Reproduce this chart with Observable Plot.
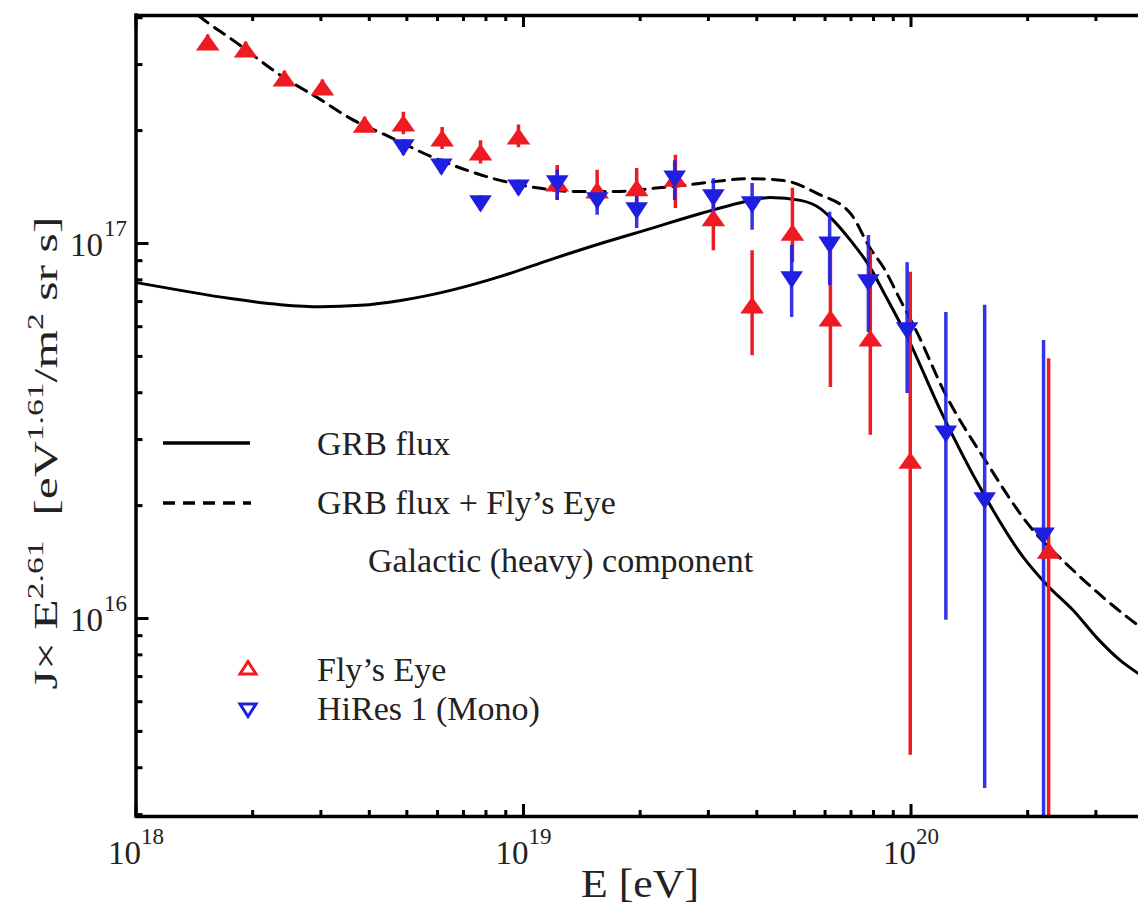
<!DOCTYPE html>
<html><head><meta charset="utf-8">
<script src="https://cdn.jsdelivr.net/npm/d3@7"></script>
<script src="https://cdn.jsdelivr.net/npm/@observablehq/plot@0.6"></script>
<style>
html,body{margin:0;padding:0;background:#fff;overflow:hidden}
#chart svg{display:block}
</style></head><body><div id="chart"></div>
<script>
// ---------- data ----------
// Fly's Eye (red, up triangles)
const flyE  = [1.531e18,1.919e18,2.415e18,3.027e18,3.890e18,4.898e18,6.166e18,7.745e18,9.705e18,1.222e19,1.549e19,1.959e19,2.466e19,3.090e19,3.890e19,4.943e19,6.194e19,7.852e19,9.954e19,2.265e20];
const flyJ  = [3.436e17,3.289e17,2.754e17,2.606e17,2.075e17,2.089e17,1.905e17,1.750e17,1.928e17,1.445e17,1.384e17,1.403e17,1.489e17,1.167e17,6.84e16,1.069e17,6.31e16,5.58e16,2.636e16,1.517e16];
const flyLo = [3.28e17,3.14e17,2.63e17,2.49e17,1.98e17,1.95e17,1.78e17,1.63e17,1.80e17,1.303e17,1.262e17,1.225e17,1.239e17,9.57e16,5.02e16,8.89e16,4.13e16,3.08e16,4.32e15,2.5e15];
const flyHi = [3.60e17,3.44e17,2.88e17,2.73e17,2.17e17,2.24e17,2.04e17,1.88e17,2.07e17,1.614e17,1.567e17,1.585e17,1.718e17,1.303e17,9.57e16,1.403e17,9.57e16,9.57e16,8.38e16,4.93e16];
// HiRes 1 Mono (blue, down triangles)
const hiE  = [4.898e18,6.138e18,7.745e18,9.705e18,1.222e19,1.549e19,1.959e19,2.455e19,3.090e19,3.890e19,4.920e19,6.166e19,7.762e19,9.772e19,1.230e20,1.549e20,2.198e20];
const hiJ  = [1.803e17,1.603e17,1.279e17,1.409e17,1.445e17,1.303e17,1.225e17,1.489e17,1.327e17,1.271e17,8.02e16,9.93e16,7.87e16,5.86e16,3.11e16,2.065e16,1.663e16];
const hiLo = [1.72e17,1.53e17,1.22e17,1.345e17,1.303e17,1.189e17,1.096e17,1.303e17,1.117e17,1.084e17,6.35e16,7.73e16,5.79e16,3.98e16,9.89e15,3.52e15,2.5e15];
const hiHi = [1.89e17,1.68e17,1.34e17,1.475e17,1.567e17,1.429e17,1.384e17,1.663e17,1.489e17,1.445e17,9.89e16,1.211e17,1.050e17,8.89e16,6.55e16,6.84e16,5.51e16];
// GRB flux (solid)
const grbE = [1e18,1.303e18,1.754e18,2.360e18,2.992e18,3.793e18,4.819e18,6.486e18,8.730e18,1.175e19,1.581e19,2.128e19,2.864e19,3.631e19,4.335e19,5.188e19,5.834e19,6.310e19,6.982e19,7.727e19,8.590e19,9.795e19,1.191e20,1.538e20,1.950e20,2.249e20,2.624e20,3.027e20,3.467e20,3.864e20];
const grbJ = [7.87e16,7.50e16,7.13e16,6.87e16,6.78e16,6.84e16,7.05e16,7.50e16,8.17e16,9.06e16,1.000e17,1.096e17,1.202e17,1.285e17,1.327e17,1.303e17,1.239e17,1.151e17,1.019e17,8.85e16,7.26e16,5.61e16,3.59e16,2.153e16,1.455e16,1.225e16,1.050e16,8.85e15,7.73e15,7.13e15];
// GRB flux + Fly's Eye (dashed)
const sumE = [1.449e18,1.531e18,1.786e18,2.404e18,2.938e18,3.581e18,4.539e18,5.861e18,7.161e18,8.375e18,1.107e19,1.346e19,1.778e19,2.163e19,2.588e19,2.979e19,3.846e19,4.688e19,5.741e19,6.982e19,7.852e19,8.492e19,9.397e19,1.040e20,1.213e20,1.574e20,2.000e20,2.624e20,3.622e20,3.864e20];
const sumJ = [4.055e17,3.882e17,3.475e17,2.773e17,2.449e17,2.153e17,1.919e17,1.694e17,1.567e17,1.489e17,1.403e17,1.377e17,1.377e17,1.403e17,1.429e17,1.455e17,1.489e17,1.472e17,1.358e17,1.202e17,9.70e16,8.63e16,7.05e16,5.75e16,4.06e16,2.588e16,1.791e16,1.343e16,1.007e16,9.57e15];
// axes
const xDomain = [1e18, 3.864e20];
const yDomain = [2.965e15, 4.055e17];
const xMajor = [1e18, 1e19, 1e20];
const xMajorExp = ["18", "19", "20"];
const xMinor = [2e18,3e18,4e18,5e18,6e18,7e18,8e18,9e18,2e19,3e19,4e19,5e19,6e19,7e19,8e19,9e19,2e20,3e20];
const yMajor = [1e16, 1e17];
const yMajorExp = ["16", "17"];
const yMinor = [3e15,4e15,5e15,6e15,7e15,8e15,9e15,2e16,3e16,4e16,5e16,6e16,7e16,8e16,9e16,2e17,3e17,4e17];
const legendLines = ["GRB flux", "GRB flux + Fly\u2019s Eye"];
const legendNote = "Galactic (heavy) component";
const legendPoints = ["Fly\u2019s Eye", "HiRes 1 (Mono)"];

// ---------- tables ----------
const fly = flyE.map((E, i) => ({E, J: flyJ[i], lo: flyLo[i], hi: flyHi[i]}));
const hi = hiE.map((E, i) => ({E, J: hiJ[i], lo: hiLo[i], hi: hiHi[i]}));
const grb = grbE.map((E, i) => ({E, J: grbJ[i]}));
const sum = sumE.map((E, i) => ({E, J: sumJ[i]}));
const xT = xMajor.map((v, i) => ({v, e: xMajorExp[i]}));
const yT = yMajor.map((v, i) => ({v, e: yMajorExp[i]}));

// ---------- layout ----------
const W = 1138, H = 909, mL = 135.5, mR = 0, mT = 15, mB = 93;
const fw = W - mL - mR, fh = H - mT - mB;
const RED = "#ee1b22", BLUE = "#1f1fe0";
const FONT = "'Liberation Serif','Times New Roman',serif";

const triUp = {draw(ctx, size) { const r = Math.sqrt(size / Math.PI); const w = r * 1.1, h = r * 0.78;
  ctx.moveTo(0, -h); ctx.lineTo(w, h); ctx.lineTo(-w, h); ctx.closePath(); }};
const triDown = {draw(ctx, size) { const r = Math.sqrt(size / Math.PI); const w = r * 1.05, h = r * 0.8;
  ctx.moveTo(0, h); ctx.lineTo(w, -h); ctx.lineTo(-w, -h); ctx.closePath(); }};

const plot = Plot.plot({
  width: W, height: H, marginLeft: mL, marginRight: mR, marginTop: mT, marginBottom: mB,
  x: {type: "log", domain: xDomain, axis: null},
  y: {type: "log", domain: yDomain, axis: null},
  style: {fontFamily: FONT, background: "white", color: "black"},
  marks: [
    Plot.line(grb, {x: "E", y: "J", curve: "monotone-x", stroke: "black", strokeWidth: 3, clip: true}),
    Plot.line(sum, {x: "E", y: "J", curve: "monotone-x", stroke: "black", strokeWidth: 3, strokeDasharray: "12,8", clip: true}),
    Plot.ruleX(fly, {x: "E", y1: "lo", y2: "hi", stroke: RED, strokeWidth: 3.5, clip: true}),
    Plot.ruleX(hi, {x: "E", y1: "lo", y2: "hi", stroke: BLUE, strokeWidth: 3.5, strokeOpacity: 0.9, clip: true}),
    Plot.dot(fly, {x: "E", y: "J", symbol: triUp, r: 9, fill: RED, stroke: RED, strokeWidth: 2}),
    Plot.dot(hi, {x: "E", y: "J", symbol: triDown, r: 9, fill: BLUE, stroke: BLUE, strokeWidth: 2}),
    // frame (left, bottom, top)
    Plot.ruleX([xDomain[0]], {stroke: "black", strokeWidth: 3.5, strokeLinecap: "square"}),
    Plot.ruleY([yDomain[0], yDomain[1]], {stroke: "black", strokeWidth: 3.5}),
    // inward ticks
    Plot.tickX(xMajor, {insetTop: fh - 12, strokeWidth: 3}),
    Plot.tickX(xMajor, {insetBottom: fh - 12, strokeWidth: 3}),
    Plot.tickX(xMinor, {insetTop: fh - 6, strokeWidth: 3}),
    Plot.tickX(xMinor, {insetBottom: fh - 6, strokeWidth: 3}),
    Plot.tickY(yMajor, {insetRight: fw - 13, strokeWidth: 3}),
    Plot.tickY(yMinor, {insetRight: fw - 7, strokeWidth: 3}),
    // tick labels
    Plot.text(xT, {x: "v", text: () => "10", frameAnchor: "bottom", textAnchor: "end", lineAnchor: "bottom", dx: 5, dy: 47, fontSize: 33, fill: "#222"}),
    Plot.text(xT, {x: "v", text: "e", frameAnchor: "bottom", textAnchor: "start", lineAnchor: "bottom", dx: 5, dy: 27, fontSize: 23, fill: "#222"}),
    Plot.text(yT, {y: "v", text: () => "10", frameAnchor: "left", textAnchor: "end", lineAnchor: "bottom", dx: -33, dy: 12, fontSize: 33, fill: "#222"}),
    Plot.text(yT, {y: "v", text: "e", frameAnchor: "left", textAnchor: "start", lineAnchor: "bottom", dx: -32, dy: -8, fontSize: 23, fill: "#222"})
  ]
});
document.getElementById("chart").appendChild(plot);

// ---------- axis titles & legend ----------
const svg = d3.select(plot);
const sup = (sel, t) => sel.append("tspan").attr("dy", -14).attr("font-size", 23).text(t);
const base = (sel, t) => sel.append("tspan").attr("dy", 14).text(t);

// y-axis label
const yl = svg.append("text").attr("text-anchor", "middle").attr("font-size", 34)
  .attr("font-family", FONT).attr("fill", "#222").style("white-space", "pre");
yl.append("tspan").text("J\u00d7 E");
sup(yl, "2.61"); base(yl, "  [eV"); sup(yl, "1.61"); base(yl, "/m"); sup(yl, "2"); base(yl, " sr s]");
const ylLen = yl.node().getComputedTextLength();
yl.attr("transform", `translate(57,453) rotate(-90) scale(${473 / ylLen},1)`);

// x-axis label
const xl = svg.append("text").attr("text-anchor", "middle").attr("font-size", 39)
  .attr("font-family", FONT).attr("fill", "#222").style("white-space", "pre")
  .attr("x", 640).attr("y", 897).text("E [eV]");
const xlLen = xl.node().getComputedTextLength();
xl.attr("transform", `translate(640,0) scale(${118 / xlLen},1) translate(-640,0)`);

// legend
const lg = svg.append("g").attr("font-family", FONT).attr("font-size", 34).attr("fill", "#222").attr("text-anchor", "start");
lg.append("line").attr("x1", 163).attr("x2", 250).attr("y1", 443).attr("y2", 443).attr("stroke", "black").attr("stroke-width", 3.5);
lg.append("line").attr("x1", 163).attr("x2", 251).attr("y1", 503).attr("y2", 503).attr("stroke", "black").attr("stroke-width", 3.5).attr("stroke-dasharray", "12,8");
lg.append("text").attr("x", 317).attr("y", 455).text(legendLines[0]);
lg.append("text").attr("x", 317).attr("y", 514).text(legendLines[1]);
lg.append("text").attr("x", 368).attr("y", 572).text(legendNote);
lg.append("path").attr("d", "M248,661.5L256,674L240,674Z").attr("fill", "white").attr("stroke", RED).attr("stroke-width", 3);
lg.append("path").attr("d", "M248,716.5L256,704L240,704Z").attr("fill", "white").attr("stroke", BLUE).attr("stroke-width", 3);
lg.append("text").attr("x", 317).attr("y", 681).text(legendPoints[0]);
lg.append("text").attr("x", 317).attr("y", 720).text(legendPoints[1]);
</script>
</body></html>
